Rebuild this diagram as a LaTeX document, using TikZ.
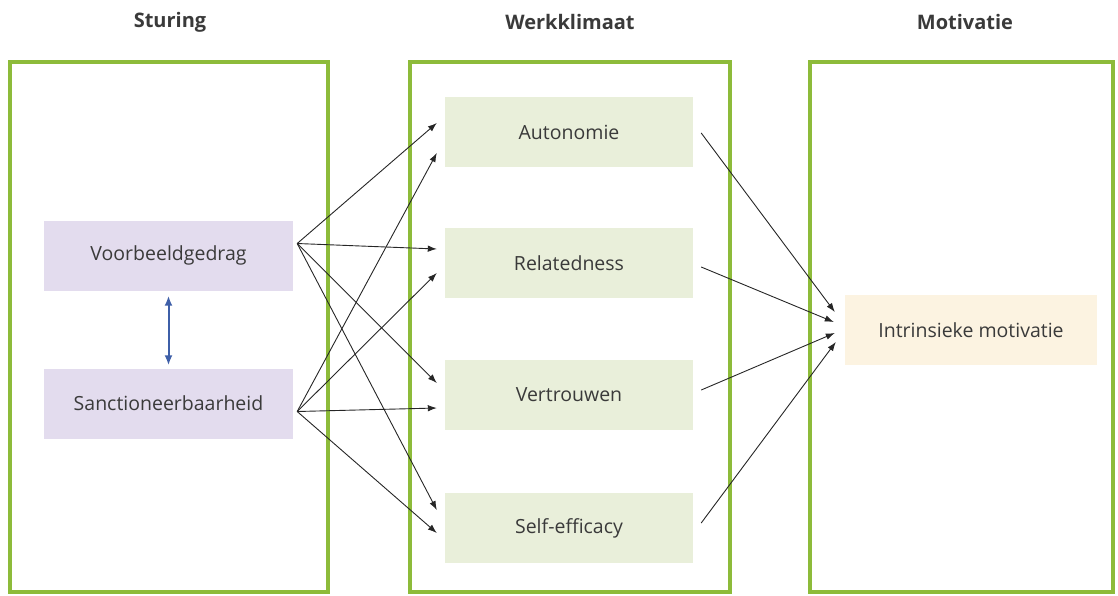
\documentclass[tikz,border=0pt]{standalone}
\usepackage{fontspec}
\setmainfont{Open Sans}
\usetikzlibrary{arrows.meta}
\definecolor{frameg}{HTML}{8DBB3A}
\definecolor{lav}{HTML}{E3DCEE}
\definecolor{lgreen}{HTML}{E9EFDA}
\definecolor{cream}{HTML}{FCF3E1}
\definecolor{txt}{HTML}{3A3A3A}
\definecolor{blu}{HTML}{3E5FA8}
\tikzset{
  frame/.style={draw=frameg, line width=4pt, inner sep=0pt},
  title/.style={font=\fontsize{20}{24}\selectfont\bfseries, text=txt},
  box/.style={minimum width=249pt, minimum height=70pt, inner sep=0pt, text=txt, font=\fontsize{19.5}{23}\selectfont},
  lbox/.style={box, fill=lav},
  mbox/.style={box, fill=lgreen, minimum width=248pt},
  rbox/.style={box, fill=cream, minimum width=252pt},
  conn/.style={draw=black!85, line width=0.9pt, -{Latex[length=9pt,width=6.5pt]}},
  dbl/.style={draw=blu, line width=2pt, {Latex[length=10pt,width=8pt]}-{Latex[length=10pt,width=8pt]}}
}
\begin{document}
\begin{tikzpicture}[x=1pt,y=1pt]
\useasboundingbox (0,0) rectangle (1118,-595);
% frames
\node[frame, minimum width=318pt, minimum height=530pt] (F1) at (169,-327) {};
\node[frame, minimum width=320pt, minimum height=530pt] (F2) at (570,-327) {};
\node[frame, minimum width=303pt, minimum height=530pt] (F3) at (961.5,-327) {};
% titles
\node[title] (T1) at (170,-22) {Sturing};
\node[title] (T2) at (570,-22) {Werkklimaat};
\node[title] (T3) at (965,-22) {Motivatie};
% left boxes
\node[lbox] (V) at (168.5,-255.5) {Voorbeeldgedrag};
\node[lbox] (S) at (168.5,-403.5) {Sanctioneerbaarheid};
% middle boxes
\node[mbox] (A) at (569,-132) {Autonomie};
\node[mbox] (R) at (569,-263) {Relatedness};
\node[mbox] (Ve) at (569,-395) {Vertrouwen};
\node[mbox] (Se) at (569,-528) {Self-efficacy};
% right box
\node[rbox] (I) at (971,-330) {Intrinsieke motivatie};
% double arrow
\draw[dbl] ([yshift=-5pt]V.south) -- ([yshift=3pt]S.north);
% left arrows
\coordinate (v0) at ([xshift=4pt,yshift=12pt]V.east);
\coordinate (s0) at ([xshift=4pt,yshift=-8pt]S.east);
\draw[conn] (v0) -- ([xshift=-8pt,yshift=9pt]A.west);
\draw[conn] (v0) -- ([xshift=-8pt,yshift=14pt]R.west);
\draw[conn] (v0) -- ([xshift=-8pt,yshift=12pt]Ve.west);
\draw[conn] (v0) -- ([xshift=-8pt,yshift=18pt]Se.west);
\draw[conn] (s0) -- ([xshift=-8pt,yshift=-21pt]A.west);
\draw[conn] (s0) -- ([xshift=-8pt,yshift=-10pt]R.west);
\draw[conn] (s0) -- ([xshift=-8pt,yshift=-13pt]Ve.west);
\draw[conn] (s0) -- ([xshift=-8pt,yshift=-5pt]Se.west);
% right arrows
\draw[conn] ([xshift=8pt,yshift=-1pt]A.east) -- ([xshift=-10pt,yshift=18pt]I.west);
\draw[conn] ([xshift=8pt,yshift=-4pt]R.east) -- ([xshift=-11pt,yshift=8pt]I.west);
\draw[conn] ([xshift=8pt,yshift=5pt]Ve.east) -- ([xshift=-10pt,yshift=-3pt]I.west);
\draw[conn] ([xshift=8pt,yshift=5pt]Se.east) -- ([xshift=-9pt,yshift=-12pt]I.west);
\end{tikzpicture}
\end{document}
